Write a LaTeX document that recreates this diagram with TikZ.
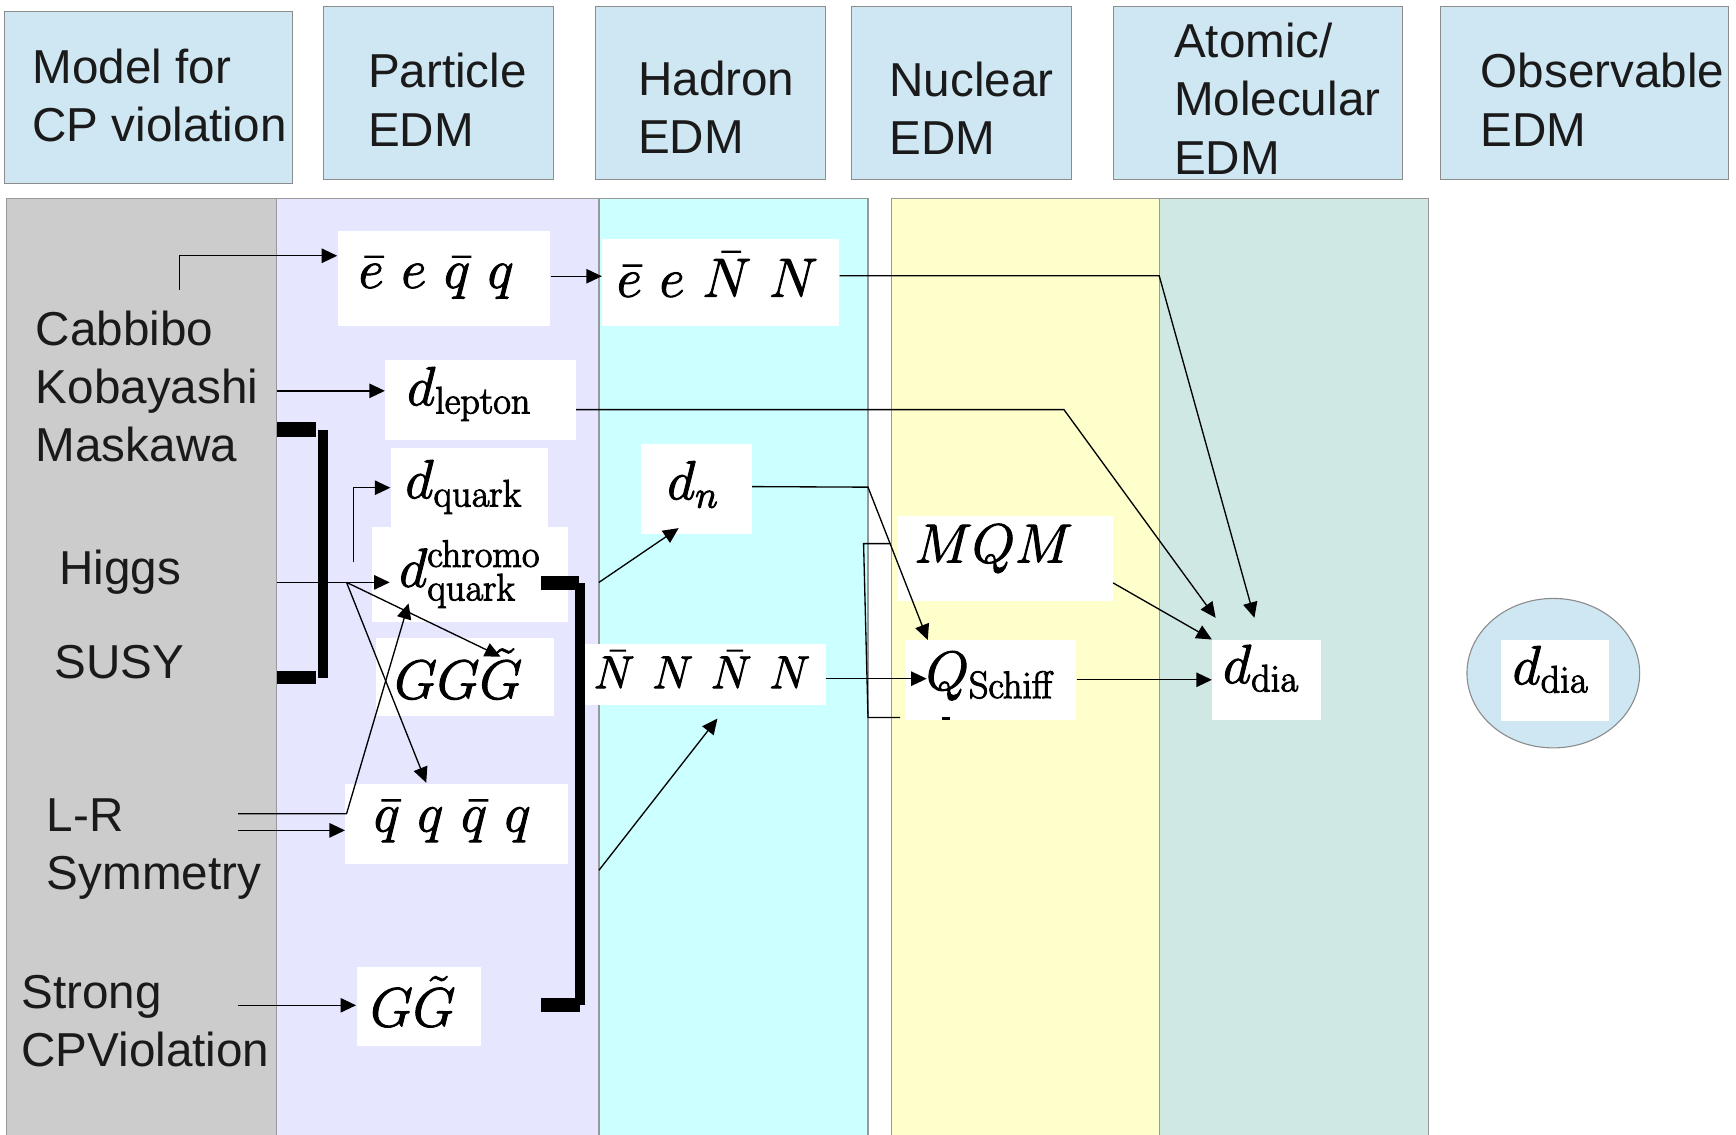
\documentclass[tikz,border=0pt]{standalone}
\usepackage[no-math]{fontspec}
\setmainfont{Liberation Sans}
\usetikzlibrary{arrows.meta,fit,shapes.geometric}
\definecolor{hdrblue}{RGB}{207,230,243}
\definecolor{colgray}{RGB}{204,204,204}
\definecolor{collav}{RGB}{230,230,255}
\definecolor{colcyan}{RGB}{204,255,255}
\definecolor{colyel}{RGB}{255,255,204}
\definecolor{colteal}{RGB}{207,232,228}
\definecolor{txtgray}{RGB}{26,26,26}
\newcommand\gapp{\hspace{8pt}}
\newcommand\ngap{\hspace{8pt}}
\newcommand\mt[2]{\raisebox{#1}[0pt][0pt]{\special{pdf:literal direct 2 Tr 0.45 w}#2\special{pdf:literal direct 0 Tr}}}
\newcommand\shl[1]{\rule{#1}{0pt}}
\begin{document}
\begin{tikzpicture}[x=0.5pt,y=-0.5pt,
  hdrbox/.style={draw=black!45, fill=hdrblue, inner sep=0pt, line width=0.5pt},
  hdrtext/.style={anchor=west, align=left, inner sep=0pt, text=txtgray, font=\fontsize{21.5}{26.3}\selectfont},
  ltext/.style={align=left, inner sep=0pt, text=txtgray, font=\fontsize{21.5}{26.3}\selectfont},
  mbox/.style 2 args={fill=white, inner sep=0pt, minimum width=#1, minimum height=#2, font=\fontsize{24}{28}\selectfont},
  colframe/.style={draw=black!40, line width=0.5pt},
  conn/.style={line width=0.6pt, black},
  arr/.style={conn, -{Triangle[length=7pt,width=6.5pt]}},
  bar/.style={fill=black, draw=none}
]
\useasboundingbox (0,0) rectangle (1568,1025);
% columns
\draw[colframe, fill=colgray] (6,179) rectangle (250,1030);
\draw[colframe, fill=collav] (250,179) rectangle (541,1030);
\draw[colframe, fill=colcyan] (541,179) rectangle (784,1030);
\draw[colframe, fill=colyel] (805,179) rectangle (1047,1030);
\draw[colframe, fill=colteal] (1047,179) rectangle (1290,1030);

% headers
\node[hdrbox, fit={(4,10)(264,166)}] (h1) {};
\node[hdrbox, fit={(292,6)(500,162)}] (h2) {};
\node[hdrbox, fit={(538,6)(746,162)}] (h3) {};
\node[hdrbox, fit={(769,6)(968,162)}] (h4) {};
\node[hdrbox, fit={(1006,6)(1267,162)}] (h5) {};
\node[hdrbox, fit={(1301,6)(1561,162)}] (h6) {};
\node[hdrtext] (t1) at (29,86) {Model for\\CP violation};
\node[hdrtext] (t2) at (332,90) {Particle\\EDM};
\node[hdrtext] (t3) at (576,97) {Hadron\\EDM};
\node[hdrtext] (t4) at (803,98) {Nuclear\\EDM};
\node[hdrtext] (t5) at (1060,89) {Atomic/\\Molecular\\EDM};
\node[hdrtext] (t6) at (1337,90) {Observable\\EDM};

% left column texts
\node[ltext, anchor=west] (ckm) at (32,349) {Cabbibo\\Kobayashi\\Maskawa};
\node[ltext, anchor=base west] (higgstxt) at (53,528) {Higgs};
\node[ltext, anchor=base west] (susy) at (49,613) {SUSY};
\node[ltext, anchor=west] (lrs) at (42,767) {L-R\\Symmetry};
\node[ltext, anchor=west] (scpv) at (19,922) {Strong\\CPViolation};

% math boxes (centre, size in pt)
\node[mbox={96pt}{42.5pt}] (eeqq) at (401,251.5) {\mt{-4.25pt}{$\bar e\gapp e\gapp \bar q\gapp q$}\shl{7pt}};
\node[mbox={107pt}{39pt}] (eeNN) at (651,255) {\mt{-6.5pt}{$\bar e\gapp e\gapp \bar N\gapp N$}\shl{3pt}};
\node[mbox={86pt}{36pt}] (dlep) at (434,361) {\mt{-2.5pt}{$d_{\mathrm{lepton}}$}\shl{10pt}};
\node[mbox={71pt}{35.5pt}] (dquark) at (424,440.5) {\mt{-4.75pt}{$d_{\mathrm{quark}}$}\shl{5pt}};
\node[mbox={88.5pt}{43pt}] (dchromo) at (424.5,519) {\mt{-5.5pt}{$d^{\mathrm{chromo}}_{\mathrm{quark}}$}};
\node[mbox={80pt}{35.5pt}] (GGGt) at (420,611.5) {\mt{-9.75pt}{$GG\tilde G$}\shl{6pt}};
\node[mbox={100.5pt}{36pt}] (qqqq) at (412.5,744) {\mt{-3.5pt}{$\bar q\gapp q\gapp \bar q\gapp q$}\shl{4pt}};
\node[mbox={56pt}{36pt}] (GGt) at (378,909) {\mt{-9pt}{$G\tilde G$}\shl{5pt}};
\node[mbox={50pt}{40.5pt}] (dn) at (629,441.5) {\mt{-4.75pt}{$d_n$}\shl{3pt}};
\node[mbox={109pt}{27.5pt}, font=\fontsize{21}{25}\selectfont] (NNNN) at (637,609.5) {\mt{-6pt}{$\bar N\ngap N\ngap \bar N\ngap N$}\shl{3pt}};
\node[mbox={97pt}{38.5pt}] (MQM) at (908,504.5) {\mt{-1.75pt}{$MQM$}\shl{10.5pt}};
\node[mbox={77pt}{36pt}] (QSchiff) at (895,614) {\mt{-4.5pt}{$Q_{\mathrm{Schiff}}$}};
\node[mbox={49pt}{36pt}] (ddia) at (1144,614) {\mt{-1.5pt}{$d_{\mathrm{dia}}$}\shl{5pt}};
\node[ellipse, draw=black!45, fill=hdrblue, line width=0.5pt, minimum width=78pt, minimum height=67.5pt, inner sep=0pt] (ell) at (1403,608) {};
\node[mbox={48.5pt}{36.5pt}] (ddiaobs) at (1404.5,614.5) {\mt{-1.75pt}{$d_{\mathrm{dia}}$}\shl{4pt}};

% thick brackets
\fill[bar] (250,381) rectangle (285,395);
\fill[bar] (287,388) rectangle (296,612);
\fill[bar] (250,606) rectangle (285,618);
\fill[bar] (489,520) rectangle (523,533);
\fill[bar] (519,527) rectangle (528,908);
\fill[bar] (489,901) rectangle (524,914);

% helper coordinates
\coordinate (cab) at (162,262);
\coordinate (kob) at (250,353);
\coordinate (higgs) at (250,526);
\coordinate (chin) at (352,526);
\coordinate (br) at (313,526);
\coordinate (dqs) at (319,508);
\coordinate (lr1) at (215,735);
\coordinate (lr1k) at (313,735);
\coordinate (lr2) at (215,750);
\coordinate (scp) at (215,908);
\coordinate (rb1) at (541,526);
\coordinate (rb2) at (541,786);
\coordinate (k1) at (1047,249);
\coordinate (k2) at (961,370);
\coordinate (k3) at (784,440);
\coordinate (tipA) at (1133,558);
\coordinate (tipB) at (1098,558);
\coordinate (tipGG) at (452,593);
\coordinate (tipqq) at (385,707);
\coordinate (tipch) at (369,545);
\coordinate (tipdn) at (613,477);
\coordinate (tipNN) at (648,649);
\coordinate (tipQ) at (838,578);
\coordinate (qin) at (837,613);
\coordinate (mb1) at (804,491);
\coordinate (mb2) at (780,491);
\coordinate (mb3) at (784,648);
\coordinate (mb4) at (813,648);

% connectors
\draw[arr] (cab) |- ([yshift=10.25pt]eeqq.west);
\draw[arr] ([yshift=1pt]eeqq.east) -- ([yshift=1pt]eeqq.east -| eeNN.west);
\draw[arr] ([yshift=3pt]eeNN.east) -- (k1) -- (tipA);
\draw[arr] (kob) -- (kob -| dlep.west);
\draw[arr] ([yshift=-4.5pt]dlep.east) -- (k2) -- (tipB);
\draw[arr] (higgs) -- (chin);
\draw[arr] (dqs) |- (dquark.west);
\draw[arr] (br) -- (tipGG);
\draw[arr] (br) -- (tipqq);
\draw[arr] (lr1) -- (lr1k) -- (tipch);
\draw[arr] (lr2) -- (lr2 -| qqqq.west);
\draw[arr] (scp) -- (scp -| GGt.west);
\draw[arr] (rb1) -- (tipdn);
\draw[arr] (rb2) -- (tipNN);
\draw[arr] ([yshift=1pt]dn.east) -- (k3) -- (tipQ);
\draw[arr] (NNNN.east |- qin) -- (qin);
\draw[conn] (mb1) -- (mb2) -- (mb3) -- (mb4);
\draw[line width=1.2pt] (851,649) -- (858,649);
\draw[arr] ([yshift=-11pt]MQM.east) -- (ddia.north west);
\draw[arr] (QSchiff.east) -- (ddia.west);
\end{tikzpicture}
\end{document}
